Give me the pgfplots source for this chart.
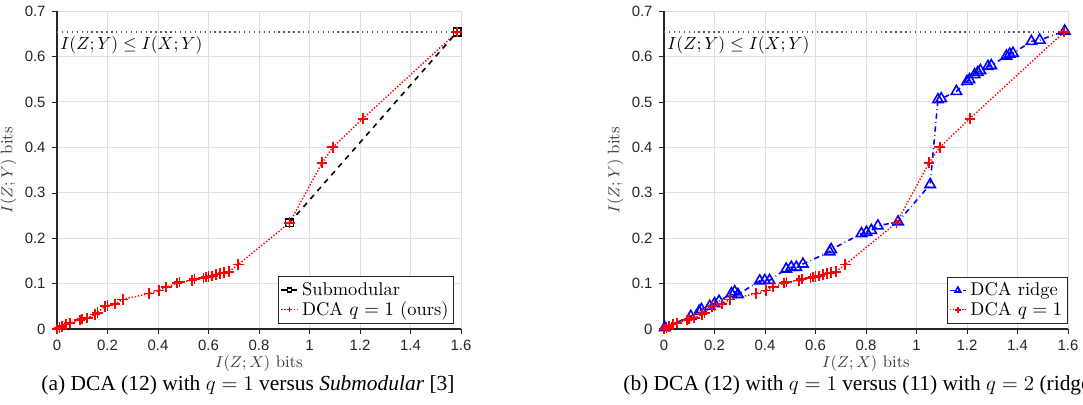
\documentclass[border=0pt]{standalone}
\usepackage{fontspec}
\usepackage{pgfplots}
\pgfplotsset{compat=1.18}
\newfontfamily\ticksans{Liberation Sans}
\newfontfamily\capserif{Liberation Serif}
\definecolor{axgray}{rgb}{0.15,0.15,0.15}
\definecolor{gridgray}{rgb}{0.88,0.88,0.88}

\pgfplotstableread{
x y
0 0
0.01 0.003
0.02 0.006
0.035 0.010
0.05 0.013
0.09 0.020
0.10 0.022
0.12 0.024
0.15 0.032
0.16 0.036
0.19 0.050
0.20 0.052
0.23 0.055
0.26 0.065
0.364 0.078
0.404 0.085
0.433 0.092
0.475 0.101
0.485 0.103
0.534 0.107
0.545 0.110
0.58 0.112
0.59 0.114
0.60 0.115
0.615 0.117
0.63 0.120
0.645 0.122
0.66 0.124
0.68 0.126
0.718 0.142
0.921 0.234
1.05 0.366
1.092 0.400
1.211 0.463
1.585 0.654
}\dcaone

\pgfplotstableread{
x y
0.921 0.234
1.585 0.654
}\submod

\pgfplotstableread{
x y
0.003 0.003
0.106 0.028
0.139 0.039
0.148 0.043
0.181 0.050
0.200 0.056
0.218 0.061
0.267 0.078
0.280 0.082
0.293 0.076
0.379 0.106
0.399 0.107
0.418 0.107
0.484 0.132
0.504 0.136
0.524 0.136
0.550 0.143
0.656 0.170
0.662 0.175
0.782 0.210
0.802 0.213
0.821 0.217
0.847 0.227
0.927 0.236
1.054 0.318
1.085 0.505
1.098 0.507
1.158 0.523
1.200 0.545
1.210 0.549
1.230 0.560
1.243 0.565
1.253 0.569
1.283 0.578
1.296 0.580
1.356 0.601
1.369 0.605
1.382 0.607
1.455 0.633
1.488 0.636
1.587 0.656
}\ridge

\pgfplotsset{
  ibstyle/.style={
    scale only axis, width=8.08cm, height=6.36cm,
    xmin=0, xmax=1.6, ymin=0, ymax=0.7,
    xtick={0,0.2,...,1.6}, ytick={0,0.1,...,0.7},
    axis lines*=left, axis line style={axgray, line width=0.6pt},
    tick align=outside, tick style={axgray},
    major tick length=3pt,
    grid=major, grid style={gridgray, line width=0.5pt},
    /pgf/number format/assume math mode=true,
    ticklabel style={font=\ticksans\fontsize{8.5}{10}\selectfont, text=axgray},
    xlabel={$I(Z;X)$ bits}, ylabel={$I(Z;Y)$ bits},
    label style={font=\fontsize{9.5}{10}\selectfont, text=axgray!90},
    xlabel style={yshift=4pt}, ylabel style={yshift=-2pt},
    legend pos=south east,
    legend style={font=\fontsize{10.5}{11}\selectfont, draw=axgray, fill=white,
      inner sep=1pt, row sep=-2pt, legend cell align=left},
    legend image post style={scale=0.55},
    clip=false,
  },
  redstyle/.style={red, densely dotted, line width=0.8pt, mark=+,
    mark size=3pt, mark options={solid, line width=1pt}},
  ixy/.style={gray!70!black, dotted, line width=0.8pt, forget plot},
}

\begin{document}
\begin{tikzpicture}
\path[use as bounding box] (0,0) rectangle (21.66,8.08);
\clip (0,0) rectangle (21.66,8.08);

\begin{axis}[ibstyle, at={(1.14cm,1.5cm)}, anchor=south west,
  legend style={at={(0.983,0.018)}, anchor=south east}]
\addplot[ixy] coordinates {(0,0.654) (1.6,0.654)};
\addplot[black, dashed, line width=0.9pt, mark=square, mark size=2.2pt,
  mark options={solid, line width=0.9pt}] table {\submod};
\addlegendentry{Submodular}
\addplot[redstyle] table {\dcaone};
\addlegendentry{DCA $q=1$ (ours)}
\node[anchor=north west, inner sep=1pt, font=\fontsize{10}{11}\selectfont]
  at (axis cs:0.005,0.648) {$I(Z;Y) \leq I(X;Y)$};
\end{axis}

\begin{axis}[ibstyle, at={(13.28cm,1.5cm)}, anchor=south west,
  legend style={at={(1,0.018)}, anchor=south east}]
\addplot[ixy] coordinates {(0,0.654) (1.6,0.654)};
\addplot[blue, dash dot, line width=0.9pt, mark=triangle, mark size=3.4pt,
  mark options={solid, line width=0.9pt}] table {\ridge};
\addlegendentry{DCA ridge}
\addplot[redstyle] table {\dcaone};
\addlegendentry{DCA $q=1$}
\node[anchor=north west, inner sep=1pt, font=\fontsize{10}{11}\selectfont]
  at (axis cs:0.005,0.648) {$I(Z;Y) \leq I(X;Y)$};
\end{axis}

\node[font=\capserif\fontsize{12.2}{14}\selectfont, inner sep=0pt] at (4.96,0.38)
  {(a) DCA (12) with $q=1$ versus \textit{Submodular} [3]};
\node[font=\capserif\fontsize{12.2}{14}\selectfont, anchor=west, inner sep=0pt] at (12.46,0.38)
  {(b) DCA (12) with $q=1$ versus (11) with $q=2$ (ridge)};
\end{tikzpicture}
\end{document}
